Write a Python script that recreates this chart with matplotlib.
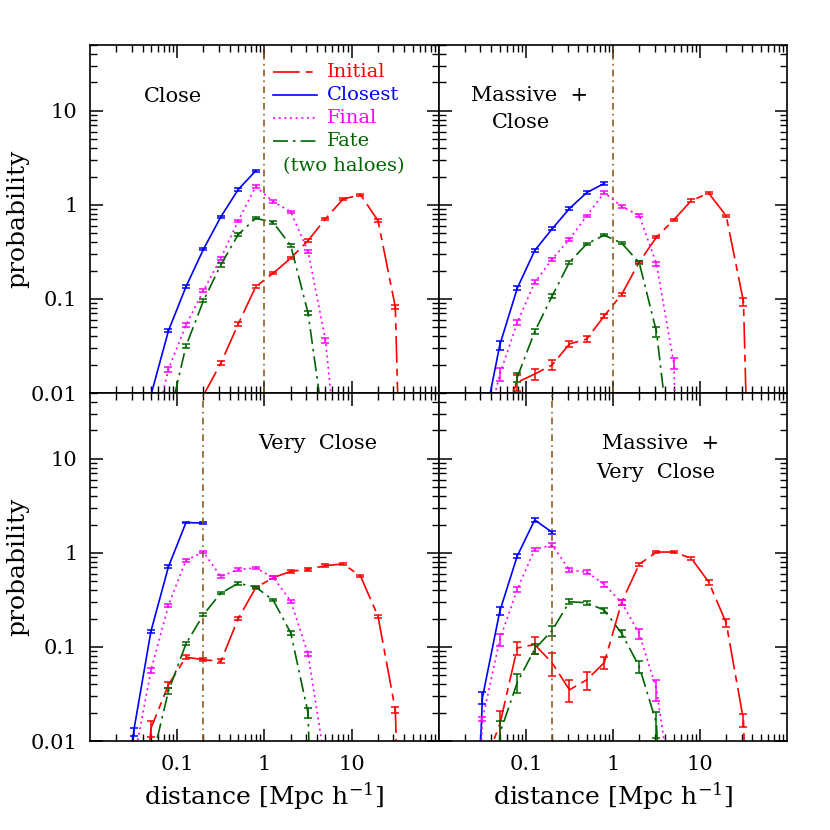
import matplotlib
matplotlib.use("Agg")
import matplotlib.pyplot as plt
from matplotlib.ticker import LogLocator, NullFormatter, FixedLocator, FixedFormatter

plt.rcParams['font.family'] = ['DejaVu Serif']
plt.rcParams['mathtext.fontset'] = 'dejavuserif'

# colours / styles of the four curves
c_init = '#ff0000'
c_close = '#0000ff'
c_final = '#ff00ff'
c_fate = '#006400'
c_split = '#8c5a1e'

# ---------------- panel 1: Close ----------------
p1_init_x = [0.2, 0.316, 0.5, 0.794, 1.26, 2.0, 3.16, 5.0, 7.94, 12.6, 20.0, 31.6, 50.0]
p1_init_y = [0.0095, 0.0207, 0.054, 0.135, 0.188, 0.271, 0.417, 0.71, 1.15, 1.28, 0.68, 0.082, 1e-8]
p1_init_e = [0.0, 0.05, 0.05, 0.04, 0.03, 0.03, 0.03, 0.03, 0.03, 0.03, 0.03, 0.05, 0.0]
p1_close_x = [0.05, 0.0794, 0.126, 0.2, 0.316, 0.5, 0.794]
p1_close_y = [0.0095, 0.046, 0.135, 0.338, 0.745, 1.455, 2.30]
p1_close_e = [0.0, 0.04, 0.03, 0.03, 0.03, 0.03, 0.03]
p1_final_x = [0.05, 0.0794, 0.126, 0.2, 0.316, 0.5, 0.794, 1.26, 2.0, 3.16, 5.0, 7.94]
p1_final_y = [0.003, 0.0179, 0.0529, 0.122, 0.271, 0.676, 1.57, 1.08, 0.843, 0.32, 0.0366, 0.0005]
p1_final_e = [0.0, 0.06, 0.05, 0.04, 0.04, 0.03, 0.03, 0.03, 0.03, 0.04, 0.06, 0.0]
p1_fate_x = [0.0794, 0.126, 0.2, 0.316, 0.5, 0.794, 1.26, 2.0, 3.16, 5.0]
p1_fate_y = [0.005, 0.0316, 0.096, 0.230, 0.483, 0.722, 0.648, 0.369, 0.0704, 0.0033]
p1_fate_e = [0.0, 0.05, 0.04, 0.04, 0.03, 0.03, 0.03, 0.04, 0.05, 0.0]

# ---------------- panel 2: Massive + Close ----------------
p2_init_x = [0.05, 0.0794, 0.126, 0.2, 0.316, 0.5, 0.794, 1.26, 2.0, 3.16, 5.0, 7.94, 12.6, 20.0, 31.6, 50.0]
p2_init_y = [0.005, 0.013, 0.0159, 0.0199, 0.0332, 0.0375, 0.066, 0.112, 0.246, 0.453, 0.692, 1.11, 1.33, 0.764, 0.0936, 1e-8]
p2_init_e = [0.0, 0.2, 0.14, 0.12, 0.07, 0.07, 0.06, 0.04, 0.03, 0.03, 0.03, 0.03, 0.03, 0.03, 0.1, 0.0]
p2_close_x = [0.0316, 0.05, 0.0794, 0.126, 0.2, 0.316, 0.5, 0.794]
p2_close_y = [0.0038, 0.0324, 0.130, 0.327, 0.556, 0.914, 1.35, 1.69]
p2_close_e = [0.0, 0.11, 0.05, 0.04, 0.04, 0.03, 0.03, 0.03]
p2_final_x = [0.0316, 0.05, 0.0794, 0.126, 0.2, 0.316, 0.5, 0.794, 1.26, 2.0, 3.16, 5.0, 7.94]
p2_final_y = [0.0028, 0.0158, 0.056, 0.150, 0.264, 0.432, 0.764, 1.35, 0.959, 0.769, 0.236, 0.0207, 1e-8]
p2_final_e = [0.0, 0.16, 0.06, 0.05, 0.04, 0.04, 0.03, 0.03, 0.03, 0.03, 0.05, 0.13, 0.0]
p2_fate_x = [0.05, 0.0794, 0.126, 0.2, 0.316, 0.5, 0.794, 1.26, 2.0, 3.16, 5.0]
p2_fate_y = [0.002, 0.0147, 0.0449, 0.1076, 0.246, 0.385, 0.476, 0.391, 0.243, 0.0449, 0.0012]
p2_fate_e = [0.0, 0.1, 0.06, 0.05, 0.04, 0.03, 0.03, 0.03, 0.04, 0.12, 0.0]

# ---------------- panel 3: Very Close ----------------
p3_init_x = [0.0316, 0.05, 0.0794, 0.126, 0.2, 0.316, 0.5, 0.794, 1.26, 2.0, 3.16, 5.0, 7.94, 12.6, 20.0, 31.6, 50.0]
p3_init_y = [1e-4, 0.0137, 0.0396, 0.078, 0.0731, 0.0702, 0.200, 0.426, 0.545, 0.636, 0.668, 0.732, 0.762, 0.567, 0.212, 0.0214, 1e-8]
p3_init_e = [0.0, 0.2, 0.08, 0.04, 0.04, 0.05, 0.04, 0.03, 0.03, 0.03, 0.03, 0.03, 0.03, 0.03, 0.04, 0.08, 0.0]
p3_close_x = [0.02, 0.0316, 0.05, 0.0794, 0.126, 0.2]
p3_close_y = [1e-6, 0.0125, 0.147, 0.714, 2.10, 2.07]
p3_close_e = [0.0, 0.1, 0.04, 0.03, 0.02, 0.02]
p3_final_x = [0.0316, 0.05, 0.0794, 0.126, 0.2, 0.316, 0.5, 0.794, 1.26, 2.0, 3.16, 5.0]
p3_final_y = [0.0059, 0.0563, 0.278, 0.834, 1.02, 0.558, 0.668, 0.690, 0.549, 0.307, 0.0842, 0.0055]
p3_final_e = [0.0, 0.06, 0.04, 0.03, 0.03, 0.03, 0.03, 0.03, 0.03, 0.04, 0.06, 0.0]
p3_fate_x = [0.05, 0.0794, 0.126, 0.2, 0.316, 0.5, 0.794, 1.26, 2.0, 3.16, 5.0]
p3_fate_y = [0.0056, 0.034, 0.108, 0.221, 0.373, 0.474, 0.433, 0.314, 0.141, 0.0198, 1e-8]
p3_fate_e = [0.0, 0.08, 0.04, 0.03, 0.03, 0.03, 0.03, 0.03, 0.04, 0.12, 0.0]

# ---------------- panel 4: Massive + Very Close ----------------
p4_init_x = [0.0316, 0.05, 0.0794, 0.126, 0.2, 0.316, 0.5, 0.794, 1.26, 2.0, 3.16, 5.0, 7.94, 12.6, 20.0, 31.6, 50.0]
p4_init_y = [0.005, 0.015, 0.0975, 0.106, 0.0675, 0.035, 0.0448, 0.068, 0.30, 0.756, 1.02, 1.02, 0.875, 0.49, 0.18, 0.0167, 1e-8]
p4_init_e = [0.0, 0.4, 0.15, 0.2, 0.28, 0.26, 0.22, 0.15, 0.06, 0.04, 0.03, 0.03, 0.04, 0.06, 0.1, 0.15, 0.0]
p4_close_x = [0.02, 0.0316, 0.05, 0.0794, 0.126, 0.2]
p4_close_y = [1e-6, 0.029, 0.240, 0.927, 2.24, 1.65]
p4_close_e = [0.0, 0.14, 0.1, 0.05, 0.04, 0.04]
p4_final_x = [0.02, 0.0316, 0.05, 0.0794, 0.126, 0.2, 0.316, 0.5, 0.794, 1.26, 2.0, 3.16, 5.0]
p4_final_y = [1e-6, 0.017, 0.12, 0.409, 1.09, 1.21, 0.657, 0.625, 0.462, 0.295, 0.139, 0.0356, 0.002]
p4_final_e = [0.0, 0.05, 0.14, 0.06, 0.04, 0.04, 0.04, 0.04, 0.05, 0.06, 0.12, 0.25, 0.0]
p4_fate_x = [0.0316, 0.05, 0.0794, 0.126, 0.2, 0.316, 0.5, 0.794, 1.26, 2.0, 3.16, 5.0]
p4_fate_y = [1e-6, 0.012, 0.0419, 0.095, 0.15, 0.302, 0.295, 0.246, 0.139, 0.0621, 0.0155, 1e-6]
p4_fate_e = [0.0, 0.35, 0.22, 0.12, 0.12, 0.06, 0.05, 0.06, 0.08, 0.14, 0.3, 0.0]

panel_titles = [["Close"], ["Massive  +", "Close"], ["Very  Close"], ["Massive  +", "Very  Close"]]
split_dist = [1.0, 1.0, 0.2, 0.2]

panels = [
    [(p1_init_x, p1_init_y, p1_init_e), (p1_close_x, p1_close_y, p1_close_e),
     (p1_final_x, p1_final_y, p1_final_e), (p1_fate_x, p1_fate_y, p1_fate_e)],
    [(p2_init_x, p2_init_y, p2_init_e), (p2_close_x, p2_close_y, p2_close_e),
     (p2_final_x, p2_final_y, p2_final_e), (p2_fate_x, p2_fate_y, p2_fate_e)],
    [(p3_init_x, p3_init_y, p3_init_e), (p3_close_x, p3_close_y, p3_close_e),
     (p3_final_x, p3_final_y, p3_final_e), (p3_fate_x, p3_fate_y, p3_fate_e)],
    [(p4_init_x, p4_init_y, p4_init_e), (p4_close_x, p4_close_y, p4_close_e),
     (p4_final_x, p4_final_y, p4_final_e), (p4_fate_x, p4_fate_y, p4_fate_e)],
]

colors = [c_init, c_close, c_final, c_fate]
dash_styles = [[16, 3.6, 4.2, 3.6], None, [1.2, 2.2], [9, 3, 1.5, 3]]
legend_names = ["Initial", "Closest", "Final", "Fate"]

fig = plt.figure(figsize=(8.3, 8.3), dpi=100)
# axes rectangles (figure fraction): TL, TR, BL, BR
rects = [[0.1084, 0.5265, 0.4205, 0.4193], [0.5289, 0.5265, 0.4193, 0.4193],
         [0.1084, 0.1072, 0.4205, 0.4193], [0.5289, 0.1072, 0.4193, 0.4193]]

for k in range(4):
    ax = fig.add_axes(rects[k])
    ax.set_xscale('log')
    ax.set_yscale('log')
    ax.set_xlim(0.01, 100)
    ax.set_ylim(0.01, 50)

    for (xs, ys, es), col, ds in zip(panels[k], colors, dash_styles):
        yerr = [y * e for y, e in zip(ys, es)]
        ax.errorbar(xs, ys, yerr=yerr, fmt='none', ecolor=col, elinewidth=1.1,
                    capsize=3.2, capthick=1.1)
        line, = ax.plot(xs, ys, color=col, lw=1.2)
        if ds is not None:
            line.set_dashes(ds)

    vl = ax.axvline(split_dist[k], color=c_split, lw=1.2)
    vl.set_dashes([4, 2.5, 1, 2.5])

    # ticks
    ax.xaxis.set_major_locator(FixedLocator([0.1, 1, 10]))
    ax.xaxis.set_minor_locator(LogLocator(base=10, subs=[2, 3, 4, 5, 6, 7, 8, 9], numticks=20))
    ax.xaxis.set_minor_formatter(NullFormatter())
    ax.yaxis.set_major_locator(FixedLocator([0.01, 0.1, 1, 10]))
    ax.yaxis.set_minor_locator(LogLocator(base=10, subs=[2, 3, 4, 5, 6, 7, 8, 9], numticks=20))
    ax.yaxis.set_minor_formatter(NullFormatter())
    ax.tick_params(which='both', direction='in', top=True, right=True, labelsize=15)
    ax.tick_params(which='major', length=9, width=1.1)
    ax.tick_params(which='minor', length=5, width=1.0)
    ax.tick_params(axis='x', pad=10)
    ax.tick_params(axis='y', pad=9)
    for s in ax.spines.values():
        s.set_linewidth(1.2)

    if k < 2:
        ax.set_xticklabels([])
    else:
        ax.xaxis.set_major_formatter(FixedFormatter(['0.1', '1', '10']))
        ax.set_xlabel(r'distance [Mpc h$^{-1}$]', fontsize=18, labelpad=5)
    if k % 2 == 1:
        ax.set_yticklabels([])
    else:
        ax.yaxis.set_major_formatter(FixedFormatter(['0.01', '0.1', '1', '10']))
        ax.set_ylabel('probability', fontsize=18, labelpad=1)

    # panel labels
    t = panel_titles[k]
    if k == 0:
        ax.text(0.155, 0.853, t[0], transform=ax.transAxes, fontsize=15, va='center', ha='left')
    elif k == 1:
        ax.text(0.261, 0.856, t[0], transform=ax.transAxes, fontsize=15, va='center', ha='center')
        ax.text(0.236, 0.776, t[1], transform=ax.transAxes, fontsize=15, va='center', ha='center')
    elif k == 2:
        ax.text(0.481, 0.856, t[0], transform=ax.transAxes, fontsize=15, va='center', ha='left')
    else:
        ax.text(0.638, 0.856, t[0], transform=ax.transAxes, fontsize=15, va='center', ha='center')
        ax.text(0.624, 0.773, t[1], transform=ax.transAxes, fontsize=15, va='center', ha='center')

    # legend drawn by hand in the first panel
    if k == 0:
        rows = [0.922, 0.856, 0.790, 0.724]
        for yy, col, ds, name in zip(rows, colors, dash_styles, legend_names):
            ln, = ax.plot([0.524, 0.650], [yy, yy], transform=ax.transAxes, color=col, lw=1.2)
            if ds is not None:
                ln.set_dashes(ds)
            ax.text(0.679, yy, name, transform=ax.transAxes, color=col, fontsize=14,
                    va='center', ha='left')
        ax.text(0.553, 0.652, '(two haloes)', transform=ax.transAxes, color=c_fate,
                fontsize=14, va='center', ha='left')

fig.savefig('out.png', dpi=100)
